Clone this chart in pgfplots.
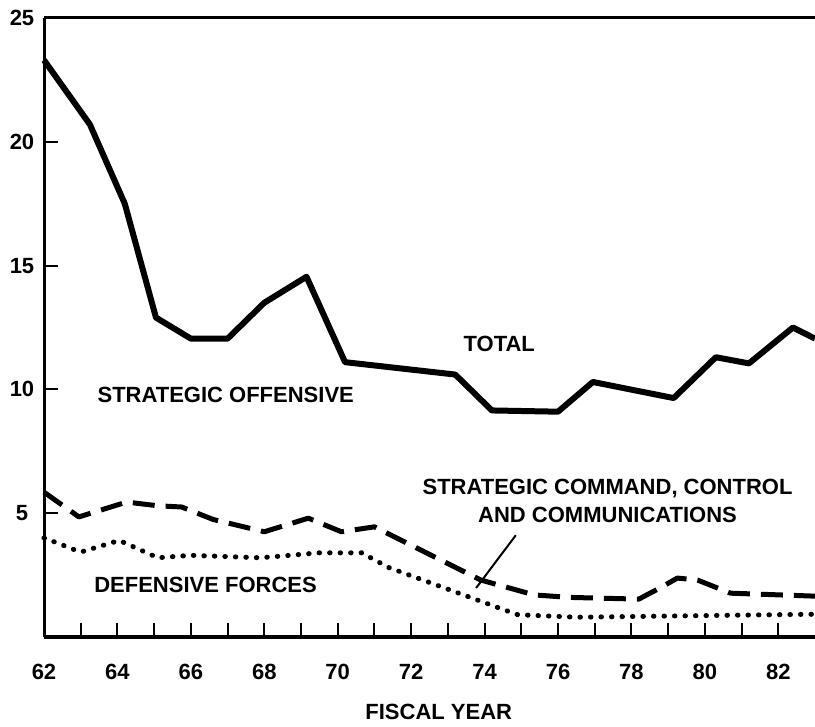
\documentclass[border=0pt]{standalone}
\usepackage{fontspec}
\setmainfont{Liberation Sans}
\usepackage{pgfplots}
\pgfplotsset{compat=1.18}
\newcommand{\lbl}{\fontsize{22}{28}\selectfont\bfseries}
\begin{document}
\begin{tikzpicture}
\begin{axis}[
  name=ax,
  scale only axis, width=771pt, height=619pt,
  xmin=62, xmax=83, ymin=0, ymax=25,
  clip=false,
  axis x line*=bottom, axis y line*=left,
  x axis line style={line width=4.5pt},
  y axis line style={line width=3pt},
  xtick={62,64,...,82},
  minor xtick={63,65,...,81},
  ytick={5,10,15,20,25},
  tick align=inside,
  major tick length=14pt, minor tick length=14pt,
  every tick/.style={line width=2pt, black},
  every minor tick/.style={line width=2pt, black},
  /pgf/number format/assume math mode=true,
  tick label style={font=\lbl},
  xticklabel style={anchor=center, yshift=-35pt},
  yticklabel style={anchor=center, xshift=-22pt},
  xlabel={FISCAL YEAR},
  xlabel style={font=\lbl, at={(axis description cs:0.512,0)}, anchor=center, yshift=-75pt},
]
\addplot[black, line width=6pt, line join=round] coordinates {
(62,23.3) (63.25,20.7) (64.2,17.5) (65.05,12.9) (66.0,12.05) (67.0,12.05)
(68.0,13.5) (69.15,14.55) (70.2,11.1) (73.2,10.6) (74.2,9.15) (76.0,9.1)
(76.95,10.3) (79.15,9.65) (80.3,11.3) (81.2,11.05) (82.4,12.5) (83.0,12.05)
};
\addplot[black, line width=5pt, dash pattern=on 22pt off 11pt, line join=round] coordinates {
(62,5.85) (62.95,4.85) (64.25,5.45) (65.1,5.3) (65.75,5.25) (66.6,4.75) (68.0,4.25)
(69.2,4.8) (70.1,4.25) (71.0,4.45) (73.9,2.3) (75.35,1.7) (76.3,1.6) (78.2,1.53)
(78.8,2.0) (79.25,2.38) (79.8,2.3) (80.7,1.77) (83,1.65)
};
\addplot[black, line width=5pt, line cap=round, dash pattern=on 0.5pt off 10pt] coordinates {
(62,4.0) (63.0,3.43) (64.05,3.9) (65.1,3.2) (66.0,3.3) (67.9,3.2) (69.5,3.4)
(70.65,3.4) (71.4,2.8) (73.7,1.55) (74.9,0.9) (76.5,0.8) (83,0.92)
};
\node[font=\lbl] at (axis cs:66.95,9.76) {STRATEGIC OFFENSIVE};
\node[font=\lbl] at (axis cs:74.4,11.85) {TOTAL};
\node[font=\lbl] at (axis cs:66.4,2.1) {DEFENSIVE FORCES};
\node[font=\lbl, align=center] at (axis cs:77.35,5.48) {STRATEGIC COMMAND, CONTROL\\AND COMMUNICATIONS};
\draw[line width=2pt] (axis cs:74.85,4.11) -- (axis cs:73.77,1.98);
\end{axis}
\draw[line width=3pt] (ax.north west) -- (ax.north east);
\pgfresetboundingbox
\path ([xshift=-44pt, yshift=-89pt]ax.south west) rectangle ([yshift=18pt]ax.north east);
\end{tikzpicture}
\end{document}
